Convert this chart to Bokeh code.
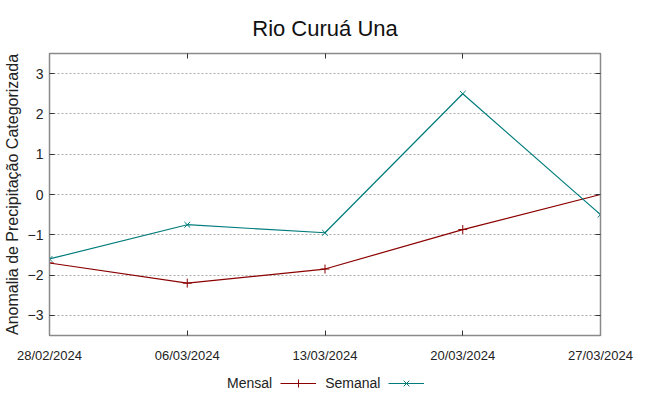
import pandas as pd
from bokeh.plotting import figure
from bokeh.layouts import column
from bokeh.models import (LinearAxis, DatetimeAxis, FixedTicker, DatetimeTickFormatter,
                          Range1d, Legend, LegendItem)
from bokeh.embed import file_html
from bokeh.resources import INLINE

dates = ["2024-02-28", "2024-03-06", "2024-03-13", "2024-03-20", "2024-03-27"]
mensal = [-1.7, -2.2, -1.85, -0.87, 0.0]
semanal = [-1.6, -0.75, -0.95, 2.5, -0.5]
y_ticks = [-3, -2, -1, 0, 1, 2, 3]
series_names = ["Mensal", "Semanal"]

x = pd.to_datetime(dates)
tick_ms = [d.value // 10**6 for d in x]

FONT = "Liberation Sans"
RED = "#8b0000"
TEAL = "#007b7b"
AX = "#8a8a8a"

p = figure(frame_width=551, frame_height=282, x_axis_type="datetime", output_backend="svg",
           toolbar_location=None,
           x_range=Range1d(x[0], x[-1]), y_range=Range1d(-3.5, 3.5),
           min_border_left=42, min_border_right=40, min_border_top=0, min_border_bottom=0)

p.title.text = "Rio Curuá Una"
p.title.text_font = FONT
p.title.text_font_size = "22px"
p.title.text_font_style = "normal"
p.title.align = "center"
p.title.text_color = "#111111"
p.title.standoff = 26

def style(ax, labels=True):
    ax.axis_line_color = AX
    ax.axis_line_width = 1.5
    ax.major_tick_in = 5
    ax.major_tick_out = 0
    ax.minor_tick_line_color = None
    ax.major_tick_line_color = "#333333"
    if not labels:
        ax.major_label_text_color = None

xb = p.xaxis[0]
xb.ticker = FixedTicker(ticks=tick_ms)
xb.formatter = DatetimeTickFormatter(days="%d/%m/%Y", months="%d/%m/%Y")
style(xb)
xb.major_label_text_font = FONT
xb.major_label_text_font_size = "13px"
xb.major_label_text_color = "#222222"
xb.major_label_standoff = 12

xt = DatetimeAxis(ticker=FixedTicker(ticks=tick_ms))
style(xt, labels=False)
xt.major_label_text_font_size = "1px"
p.add_layout(xt, "above")

yl = p.yaxis[0]
yl.ticker = FixedTicker(ticks=y_ticks)
style(yl)
yl.major_label_text_font = FONT
yl.major_label_text_font_size = "14px"
yl.major_label_text_color = "#222222"
yl.major_label_standoff = 6
yl.axis_label = "Anomalia de Precipitação Categorizada"
yl.axis_label_text_font = FONT
yl.axis_label_text_font_size = "16px"
yl.axis_label_text_font_style = "normal"
yl.axis_label_text_color = "#222222"
yl.axis_label_standoff = 4

yr = LinearAxis(ticker=FixedTicker(ticks=y_ticks))
style(yr, labels=False)
yr.major_label_text_font_size = "1px"
p.add_layout(yr, "right")

p.xgrid.visible = False
p.ygrid.ticker = FixedTicker(ticks=y_ticks)
p.ygrid.grid_line_color = "#aaaaaa"
p.ygrid.grid_line_dash = "2 2"
p.outline_line_color = None

p.line(x, mensal, line_color=RED, line_width=1.2)
p.scatter(x, mensal, marker="cross", size=9, line_color=RED, line_width=1)
p.line(x, semanal, line_color=TEAL, line_width=1.2)
p.scatter(x, semanal, marker="x", size=8, line_color=TEAL, line_width=1)

# legend strip below the chart (label drawn before its sample, as in the reference);
# its sample renderers carry the series data but lie outside this strip's ranges
lg = figure(width=633, height=30, output_backend="svg", toolbar_location=None,
            x_range=Range1d(0, 1), y_range=Range1d(0, 1),
            x_axis_location=None, y_axis_location=None,
            min_border_left=0, min_border_right=0, min_border_top=0, min_border_bottom=0)
lg.outline_line_color = None
lg.xgrid.visible = False
lg.ygrid.visible = False
lg.title.visible = False
blank = lg.line(x, mensal, line_alpha=0)
k1 = lg.line(x, mensal, line_color=RED, line_width=1.2)
m1 = lg.scatter(x, mensal, marker="cross", size=9, line_color=RED, line_width=1)
k2 = lg.line(x, semanal, line_color=TEAL, line_width=1.2)
m2 = lg.scatter(x, semanal, marker="x", size=8, line_color=TEAL, line_width=1)

legend = Legend(items=[LegendItem(label=series_names[0], renderers=[blank]),
                       LegendItem(label=series_names[1], renderers=[k1, m1]),
                       LegendItem(label="\u2003", renderers=[k2, m2])],
                orientation="horizontal", location=(133, 2),
                label_text_font=FONT, label_text_font_size="14px",
                label_text_color="#222222",
                border_line_color=None, background_fill_alpha=0,
                glyph_width=36, label_standoff=9, spacing=8, padding=2, margin=0)
lg.add_layout(legend, "center")

layout = column(p, lg, spacing=0)
open("out.html", "w").write(file_html(layout, INLINE))
